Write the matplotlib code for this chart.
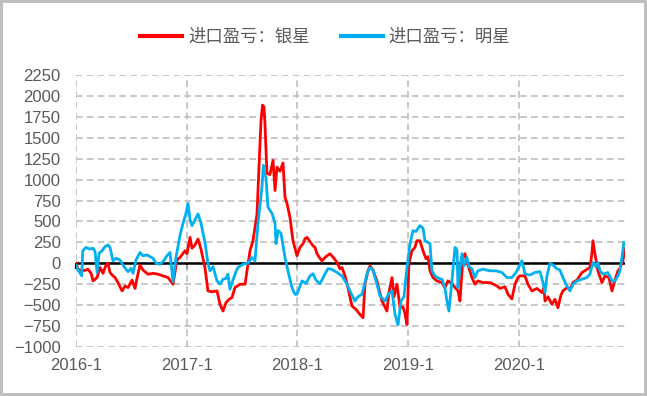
import matplotlib
matplotlib.use("Agg")
import matplotlib.pyplot as plt

plt.rcParams['font.family'] = ['Liberation Sans', 'DejaVu Sans']

# time in decimal years
t_silver = [2016.000, 2016.018, 2016.054, 2016.090, 2016.108, 2016.136, 2016.154, 2016.190, 2016.217, 2016.244,
            2016.271, 2016.289, 2016.307, 2016.334, 2016.352, 2016.379, 2016.416, 2016.443, 2016.470, 2016.506,
            2016.533, 2016.551, 2016.578, 2016.605, 2016.650, 2016.696, 2016.741, 2016.786, 2016.831, 2016.876,
            2016.912, 2016.939, 2016.967, 2016.985, 2017.003, 2017.030, 2017.048, 2017.075, 2017.102, 2017.129,
            2017.165, 2017.192, 2017.229, 2017.274, 2017.301, 2017.328, 2017.355, 2017.382, 2017.409, 2017.436,
            2017.481, 2017.527, 2017.545, 2017.572, 2017.599, 2017.635, 2017.653, 2017.671, 2017.685, 2017.698,
            2017.707, 2017.725, 2017.752, 2017.780, 2017.798, 2017.816, 2017.843, 2017.870, 2017.888, 2017.906,
            2017.933, 2017.960, 2017.996, 2018.023, 2018.051, 2018.069, 2018.087, 2018.114, 2018.141, 2018.159,
            2018.177, 2018.204, 2018.222, 2018.258, 2018.294, 2018.331, 2018.358, 2018.385, 2018.403, 2018.430,
            2018.457, 2018.493, 2018.529, 2018.565, 2018.593, 2018.611, 2018.638, 2018.656, 2018.683, 2018.719,
            2018.764, 2018.809, 2018.827, 2018.855, 2018.873, 2018.900, 2018.927, 2018.954, 2018.972, 2018.990,
            2019.008, 2019.035, 2019.062, 2019.080, 2019.107, 2019.135, 2019.162, 2019.180, 2019.198, 2019.225,
            2019.261, 2019.306, 2019.333, 2019.360, 2019.397, 2019.424, 2019.451, 2019.469, 2019.487, 2019.496,
            2019.514, 2019.541, 2019.577, 2019.604, 2019.631, 2019.677, 2019.740, 2019.803, 2019.830, 2019.875,
            2019.903, 2019.938, 2019.966, 2019.993, 2020.011, 2020.056, 2020.083, 2020.119, 2020.164, 2020.210,
            2020.228, 2020.237, 2020.264, 2020.300, 2020.327, 2020.354, 2020.381, 2020.399, 2020.435, 2020.463,
            2020.490, 2020.526, 2020.571, 2020.607, 2020.643, 2020.661, 2020.670, 2020.688, 2020.715, 2020.752,
            2020.779, 2020.815, 2020.842, 2020.869, 2020.896, 2020.914, 2020.941, 2020.959]
v_silver = [0, -70, -90, -80, -70, -120, -210, -170, -50, -120,
            -20, 0, -110, -150, -170, -230, -330, -270, -290, -200,
            -300, -180, -20, -80, -130, -120, -130, -150, -170, -250,
            40, 70, 120, 150, 115, 310, 180, 220, 290, 170,
            -50, -330, -340, -330, -490, -570, -470, -430, -410, -290,
            -250, -250, -90, 150, 270, 590, 1150, 1700, 1890, 1870,
            1670, 1075, 1060, 1230, 870, 1150, 1100, 1200, 790, 715,
            550, 270, 90, 190, 235, 295, 310, 260, 210, 190,
            115, 60, 30, 80, 115, 60, 10, -65, -50, -150,
            -290, -510, -550, -610, -650, -250, -90, -30, -80, -210,
            -450, -570, -350, -170, -400, -250, -530, -520, -600, -730,
            0, 150, 190, 270, 270, 150, 55, 80, -90, -170,
            -210, -230, -290, -210, -240, -290, -330, -450, -100, 70,
            115, -20, -170, -250, -210, -230, -230, -270, -300, -280,
            -370, -425, -250, -170, -150, -150, -250, -330, -300, -350,
            -290, -450, -400, -490, -430, -530, -380, -330, -290, -310,
            -230, -200, -110, -80, -50, 115, 270, 120, -90, -230,
            -150, -170, -330, -200, -90, -60, 30, 175]

t_mingxing = [2016.000, 2016.018, 2016.051, 2016.061, 2016.090, 2016.126, 2016.154, 2016.172, 2016.190, 2016.208,
              2016.235, 2016.262, 2016.289, 2016.307, 2016.334, 2016.361, 2016.397, 2016.434, 2016.470, 2016.497,
              2016.515, 2016.542, 2016.578, 2016.605, 2016.641, 2016.668, 2016.696, 2016.723, 2016.759, 2016.786,
              2016.822, 2016.849, 2016.876, 2016.903, 2016.939, 2016.967, 2016.994, 2017.012, 2017.030, 2017.048,
              2017.075, 2017.102, 2017.129, 2017.165, 2017.192, 2017.210, 2017.238, 2017.274, 2017.301, 2017.328,
              2017.355, 2017.373, 2017.391, 2017.418, 2017.445, 2017.463, 2017.509, 2017.554, 2017.590, 2017.617,
              2017.644, 2017.662, 2017.680, 2017.692, 2017.707, 2017.716, 2017.734, 2017.771, 2017.798, 2017.807,
              2017.825, 2017.852, 2017.888, 2017.915, 2017.951, 2017.978, 2017.996, 2018.042, 2018.078, 2018.114,
              2018.141, 2018.168, 2018.204, 2018.240, 2018.276, 2018.294, 2018.322, 2018.358, 2018.403, 2018.448,
              2018.475, 2018.520, 2018.547, 2018.584, 2018.629, 2018.656, 2018.683, 2018.719, 2018.746, 2018.791,
              2018.827, 2018.855, 2018.882, 2018.909, 2018.936, 2018.963, 2018.990, 2019.017, 2019.044, 2019.071,
              2019.107, 2019.135, 2019.153, 2019.180, 2019.198, 2019.216, 2019.243, 2019.279, 2019.306, 2019.333,
              2019.351, 2019.369, 2019.397, 2019.424, 2019.442, 2019.451, 2019.469, 2019.487, 2019.505, 2019.532,
              2019.550, 2019.577, 2019.604, 2019.631, 2019.677, 2019.740, 2019.794, 2019.848, 2019.893, 2019.938,
              2019.975, 2020.029, 2020.056, 2020.101, 2020.146, 2020.192, 2020.219, 2020.237, 2020.255, 2020.282,
              2020.309, 2020.345, 2020.372, 2020.399, 2020.435, 2020.463, 2020.490, 2020.526, 2020.571, 2020.616,
              2020.643, 2020.670, 2020.697, 2020.715, 2020.734, 2020.761, 2020.806, 2020.842, 2020.869, 2020.896,
              2020.914, 2020.932, 2020.950]
v_mingxing = [-30, -80, -150, 150, 190, 170, 180, 140, -110, 120,
              150, 200, 220, 190, 30, 60, 40, -40, -100, -60,
              -120, 40, 130, 90, 100, 80, 60, 0, -10, 20,
              90, 130, -220, 70, 330, 480, 600, 715, 520, 450,
              520, 590, 480, 250, 0, -90, -40, -210, -250, -190,
              -180, -130, -310, -200, -100, -50, -10, 0, 70, 30,
              475, 700, 910, 1170, 1050, 1030, 670, 595, 475, 235,
              390, 360, 70, -90, -290, -370, -370, -210, -240, -150,
              -125, -200, -245, -150, -65, -65, -80, -110, -150, -250,
              -330, -450, -400, -370, -125, -50, -80, -250, -390, -450,
              -360, -330, -610, -735, -450, -400, -50, 230, 390, 380,
              450, 420, 270, 250, 235, -90, -150, -180, -190, -290,
              -450, -570, -200, 190, 160, -290, -50, 115, -30, 70,
              -40, -65, -170, -90, -70, -90, -90, -110, -170, -170,
              -110, 30, -125, -140, -110, -100, -230, -350, -150, 0,
              -20, -65, -80, -170, -270, -330, -250, -210, -190, -170,
              -130, 10, -40, 10, -90, -130, -110, -210, -210, -150,
              -90, 70, 250]

years = [2016, 2017, 2018, 2019, 2020]
year_labels = ['2016-1', '2017-1', '2018-1', '2019-1', '2020-1']
y_ticks = list(range(-1000, 2251, 250))

fig = plt.figure(figsize=(6.47, 3.96), dpi=100, facecolor='white',
                 edgecolor='#BFBFBF', linewidth=3)
ax = fig.add_axes([0.1175, 0.1237, 0.8485, 0.6869])

ax.plot(t_silver, v_silver, color='#FF0000', lw=2.0, label='进口盈亏：银星', zorder=3)
ax.plot(t_mingxing, v_mingxing, color='#00B0F0', lw=2.0, label='进口盈亏：明星', zorder=4)
ax.axhline(0, color='black', lw=1.8, zorder=2.5)

ax.set_xlim(2016.0, 2020.96)
ax.set_ylim(-1000, 2250)
ax.set_yticks(y_ticks)
ax.set_xticks(years)
ax.set_xticklabels(year_labels)

for s in ax.spines.values():
    s.set_visible(False)
ax.grid(True, color='#BFBFBF', lw=1.2, ls=(0, (4, 2.5)), zorder=1)
ax.set_axisbelow(True)
ax.tick_params(axis='both', length=0, labelsize=12, colors='#595959')
ax.tick_params(axis='y', pad=11)
ax.tick_params(axis='x', pad=8)

# small downward ticks on the zero axis
zero_frac = (0 - (-1000)) / (2250 - (-1000))
sec = ax.secondary_xaxis(zero_frac)
sec.set_xticks(years)
sec.tick_params(axis='x', direction='out', length=4, width=1.5, color='black',
                labelbottom=False, labeltop=False)
sec.spines['bottom'].set_visible(False)

leg = fig.legend(loc='center', bbox_to_anchor=(0.503, 0.907), ncol=2, frameon=False,
                 prop={'family': ['Noto Sans CJK SC', 'DejaVu Sans'], 'size': 12.5},
                 handlelength=2.4, handletextpad=0.35, columnspacing=1.8)
for txt in leg.get_texts():
    txt.set_color('#595959')
for line in leg.get_lines():
    line.set_linewidth(3)

fig.savefig('out.png', dpi=100, facecolor='white', edgecolor='#BFBFBF')
